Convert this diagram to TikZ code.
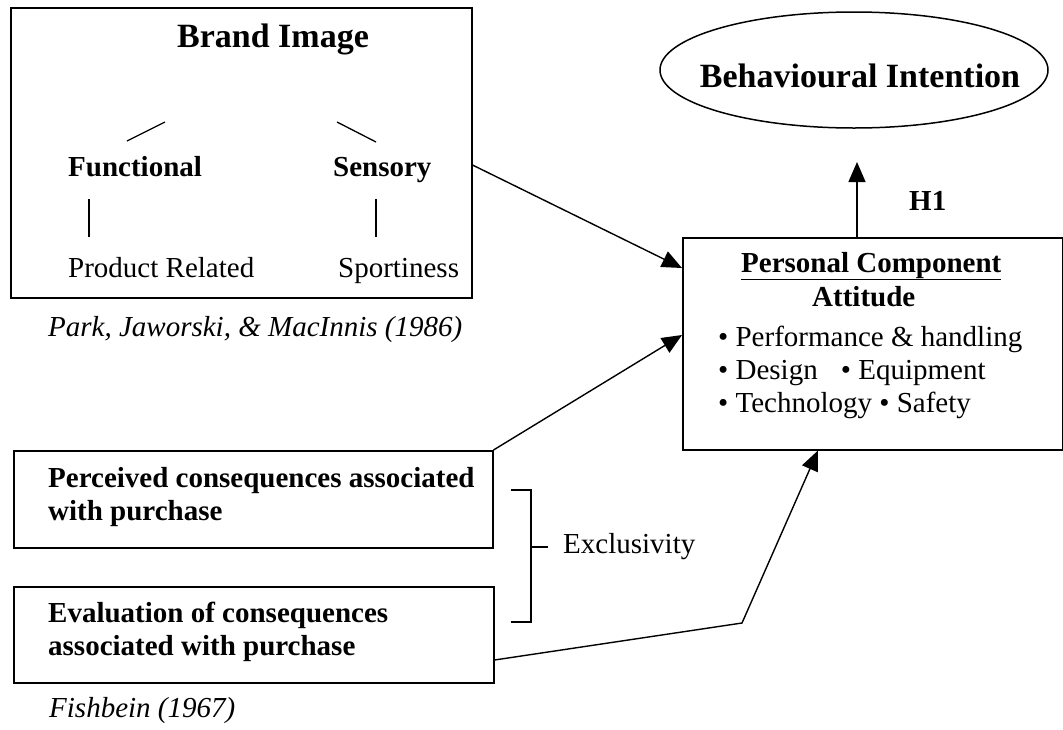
\documentclass[tikz,border=0pt]{standalone}
\usepackage{fontspec}
\setmainfont{Liberation Serif}
\usetikzlibrary{arrows.meta,shapes.geometric}
\begin{document}
\fontsize{29}{33}\selectfont
\begin{tikzpicture}[x=1pt,y=-1pt,
  box/.style={draw,line width=1.5pt,inner sep=0pt,anchor=north west},
  lbl/.style={inner sep=0pt,anchor=base west},
  boldlbl/.style={lbl,font=\bfseries},
  head/.style={inner sep=0pt,anchor=base,font=\fontsize{34}{40}\selectfont\bfseries},
  cite/.style={lbl,font=\itshape},
  arr/.style={line width=1.4pt,-{Triangle[length=20pt,width=17pt]}},
  stroke/.style={line width=1.3pt}]
\useasboundingbox (0,0) rectangle (1063,729);

% Brand image block with its two branches
\node[box,minimum width=461pt,minimum height=290pt] (brand) at (10,7) {};
\node[head] (brandtitle) at (273,47) {Brand Image};
\node[boldlbl] (func) at (68,176) {Functional};
\node[boldlbl] (sens) at (333,176) {Sensory};
\node[lbl] (prod) at (68,277) {Product Related};
\node[lbl] (sport) at (338,277) {Sportiness};
\draw[stroke] (127,141) -- (165,122);
\draw[stroke] (337,122) -- (376,142);
\draw[stroke] (89,199) -- (89,237);
\draw[stroke] (376,199) -- (376,237);
\node[cite] (park) at (48,336) {Park, Jaworski, \& MacInnis (1986)};

% Outcome
\node[draw,ellipse,line width=1.5pt,minimum width=388pt,minimum height=116pt,inner sep=0pt] (bi) at (854,70) {};
\node[head] (bitext) at (860,87) {Behavioural Intention};

% Attitude block
\node[box,minimum width=380pt,minimum height=212pt] (pc) at (682,237) {};
\node[boldlbl] (pctitle) at (741,272) {\underline{Personal Component}};
\node[boldlbl] (att) at (812,306) {Attitude};
\node[lbl] (b1) at (718,346) {• Performance \& handling};
\node[lbl] (b2) at (718,379) {• Design\hspace{0.8em}• Equipment};
\node[lbl] (b3) at (718,412) {• Technology • Safety};

\node[boldlbl] (h1) at (909,210) {H1};
\coordinate (up) at (857,162);
\draw[arr] ([xshift=175pt]pc.north west) -- (up);

% Fishbein components
\node[box,minimum width=479pt,minimum height=97pt] (pe) at (13,450) {};
\node[boldlbl] (pe1) at (48,487) {Perceived consequences associated};
\node[boldlbl] (pe2) at (48,520) {with purchase};
\node[box,minimum width=480pt,minimum height=96pt] (ev) at (13,586) {};
\node[boldlbl] (ev1) at (48,622) {Evaluation of consequences};
\node[boldlbl] (ev2) at (48,655) {associated with purchase};
\node[cite] (fish) at (49,717) {Fishbein (1967)};

% Bracket grouping the two components
\draw[stroke] (511,490) -- (531,490) -- (531,622) -- (511,622);
\draw[stroke] (531,547) -- (548,547);
\node[lbl] (excl) at (563,553) {Exclusivity};

% Connectors into the attitude block
\draw[arr] ([yshift=-158pt]brand.north east) -- ([yshift=-31pt]pc.north west);
\draw[arr] (pe.north east) -- ([yshift=-98pt]pc.north west);
\coordinate (bend) at (742,623);
\draw[arr] ([yshift=-74pt]ev.north east) -- (bend) -- ([xshift=136pt]pc.south west);
\end{tikzpicture}
\end{document}
